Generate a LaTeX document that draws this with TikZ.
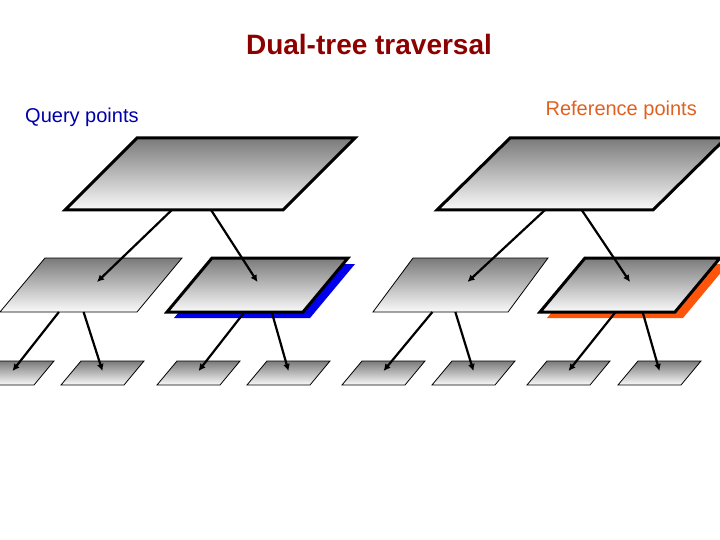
\documentclass[tikz,border=0pt]{standalone}
\usepackage{fontspec}
\setmainfont{Liberation Sans}
\usepackage{tikz}
\usetikzlibrary{calc}
\usetikzlibrary{arrows.meta}
\definecolor{titlered}{RGB}{140,0,0}
\definecolor{queryblue}{RGB}{0,0,170}
\definecolor{reforange}{RGB}{224,96,32}
\definecolor{shadowblue}{RGB}{0,0,235}
\definecolor{shadoworange}{RGB}{255,85,10}
\tikzstyle{arrow}=[-{Latex[length=7pt,width=7pt]},line width=2.2pt]
\tikzstyle{slab}=[top color=black!52,bottom color=black!2,draw=black,line width=0.8pt]
\tikzstyle{thickslab}=[slab,line width=3pt]
\tikzstyle{sidetext}=[inner sep=0pt,font=\fontsize{20}{24}\selectfont]
\newcommand{\plate}[7]{%
  \draw[#2] (#3,#4) coordinate (#1-bl) -- ++(#5,0) coordinate (#1-br)
    -- ++(#7,-#6) coordinate (#1-tr) -- ++(-#5,0) coordinate (#1-tl) -- cycle;
  \coordinate (#1) at ($(#1-bl)!0.5!(#1-tr)$);
}
\begin{document}
\begin{tikzpicture}[x=1pt,y=-1pt]
  \useasboundingbox (0,0) rectangle (720,540);

  \node[font=\fontsize{28}{32}\selectfont\bfseries, text=titlered] (title) at (369,44) {Dual-tree traversal};
  \node[sidetext, anchor=west, text=queryblue] (query) at (25,117) {Query points};
  \node[sidetext, anchor=east, text=reforange] (reference) at (697,110) {Reference points};

  \fill[shadowblue] (174,318) -- ++(136,0) -- ++(45,-54) -- ++(-136,0) -- cycle;
  \fill[shadoworange] (547,318) -- ++(136,0) -- ++(45,-54) -- ++(-136,0) -- cycle;

  \plate{qroot}{thickslab}{65}{210}{218}{72}{72}
  \plate{rroot}{thickslab}{437}{210}{216}{72}{73}
  \plate{qa}{slab}{0}{312}{137}{54}{45}
  \plate{qb}{thickslab}{167}{312}{136}{54}{45}
  \plate{ra}{slab}{373}{312}{135}{54}{40}
  \plate{rb}{thickslab}{540}{312}{135}{54}{45}
  \foreach \name/\x in {q1/-29,q2/61,q3/157,q4/247,r1/342,r2/432,r3/527,r4/618}
    {\plate{\name}{slab}{\x}{385}{63}{24}{20}}

  \draw[arrow] ($(qroot-bl)!0.49!(qroot-br)$) -- ($(qa)+(6,-3)$);
  \draw[arrow] ($(qroot-bl)!0.67!(qroot-br)$) -- ($(qb)+(0,-3)$);
  \draw[arrow] ($(rroot-bl)!0.50!(rroot-br)$) -- ($(ra)+(7,-3)$);
  \draw[arrow] ($(rroot-bl)!0.67!(rroot-br)$) -- ($(rb)+(0,-3)$);

  \draw[arrow] ($(qa-bl)!0.43!(qa-br)$) -- ($(q1)+(0,-2)$);
  \draw[arrow] ($(qa-bl)!0.61!(qa-br)$) -- ($(q2)+(0,-2)$);
  \draw[arrow] ($(qb-bl)!0.57!(qb-br)$) -- ($(q3)+(0,-2)$);
  \draw[arrow] ($(qb-bl)!0.77!(qb-br)$) -- ($(q4)+(0,-2)$);
  \draw[arrow] ($(ra-bl)!0.44!(ra-br)$) -- ($(r1)+(0,-2)$);
  \draw[arrow] ($(ra-bl)!0.61!(ra-br)$) -- ($(r2)+(0,-2)$);
  \draw[arrow] ($(rb-bl)!0.56!(rb-br)$) -- ($(r3)+(0,-2)$);
  \draw[arrow] ($(rb-bl)!0.76!(rb-br)$) -- ($(r4)+(0,-2)$);
\end{tikzpicture}
\end{document}
